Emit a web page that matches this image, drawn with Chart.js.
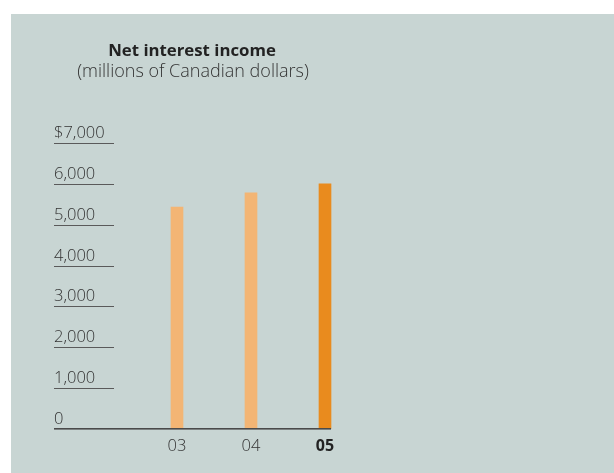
<!DOCTYPE html>
<html>
<head>
<meta charset="utf-8">
<script src="https://cdn.jsdelivr.net/npm/chart.js@4.4.0/dist/chart.umd.min.js"></script>
<style>
  html, body { margin: 0; padding: 0; background: #ffffff; }
  #wrap { position: absolute; left: 11px; top: 14px; width: 603px; height: 459px; background: #c8d5d3; }
  canvas { display: block; }
</style>
</head>
<body>
<div id="wrap"><canvas id="myChart" width="603" height="459"></canvas></div>
<script>
// Net interest income, millions of C$
var years = ['03', '04', '05']
var income = [5430, 5780, 6000]
var tickValues = [0, 1000, 2000, 3000, 4000, 5000, 6000, 7000]
var tickLabels = ['0', '1,000', '2,000', '3,000', '4,000', '5,000', '6,000', '$7,000']

var barColors = ['#f3b574', '#f3b574', '#e98b1e']
var FONT = '"Open Sans", "DejaVu Sans", sans-serif'

// draws the titles, the little tick rules on the left and the year labels
var annotate = {
    id: 'annotate',
    afterDraw: function(chart) {
        var c = chart.ctx
        var x = chart.scales.x
        var y = chart.scales.y
        c.save()

        c.textAlign = 'center'
        c.textBaseline = 'alphabetic'
        c.fillStyle = '#222222'
        c.font = 'bold 16.8px ' + FONT
        c.fillText('Net interest income', 181, 42)
        c.fillStyle = '#333333'
        c.font = '300 18px ' + FONT
        c.fillText('(millions of Canadian dollars)', 182, 63)

        // y ticks: label sits on top of a short rule
        c.textAlign = 'left'
        c.font = '300 16.5px ' + FONT
        tickValues.forEach(function(v, i) {
            var py = Math.round(y.getPixelForValue(v))
            c.fillStyle = '#333333'
            c.fillText(tickLabels[i], 43, py - 5)
            if (v > 0) {
                c.fillStyle = '#5a5a5a'
                c.fillRect(43, py, 60, 1)
            }
        })

        // base line runs out to the right edge of the last bar
        var last = chart.getDatasetMeta(0).data[years.length - 1]
        var zero = Math.round(y.getPixelForValue(0))
        c.fillStyle = '#4a4a4a'
        c.fillRect(43, zero - 1, last.x + last.width / 2 - 43, 1.6)

        // year labels, latest one in bold
        c.textAlign = 'center'
        years.forEach(function(yr, i) {
            var px = x.getPixelForValue(i)
            c.fillStyle = i == years.length - 1 ? '#222222' : '#333333'
            c.font = (i == years.length - 1 ? 'bold 16px ' : '300 16.5px ') + FONT
            c.fillText(yr, px, 437)
        })
        c.restore()
    }
}

const ctx = document.getElementById('myChart')

new Chart(ctx, {
    type: 'bar',
    data: {
        labels: years,
        datasets: [{
            label: 'Net interest income',
            data: income,
            backgroundColor: barColors,
            borderWidth: 0,
            barThickness: 12
        }]
    },
    options: {
        responsive: false,
        animation: false,
        layout: {
            padding: { left: 129, right: 252, top: 129, bottom: 44 }
        },
        plugins: {
            legend: { display: false },
            tooltip: { enabled: false }
        },
        scales: {
            x: { display: false },
            y: { display: false, min: 0, max: 7000 }
        }
    },
    plugins: [annotate]
})
</script>
</body>
</html>
